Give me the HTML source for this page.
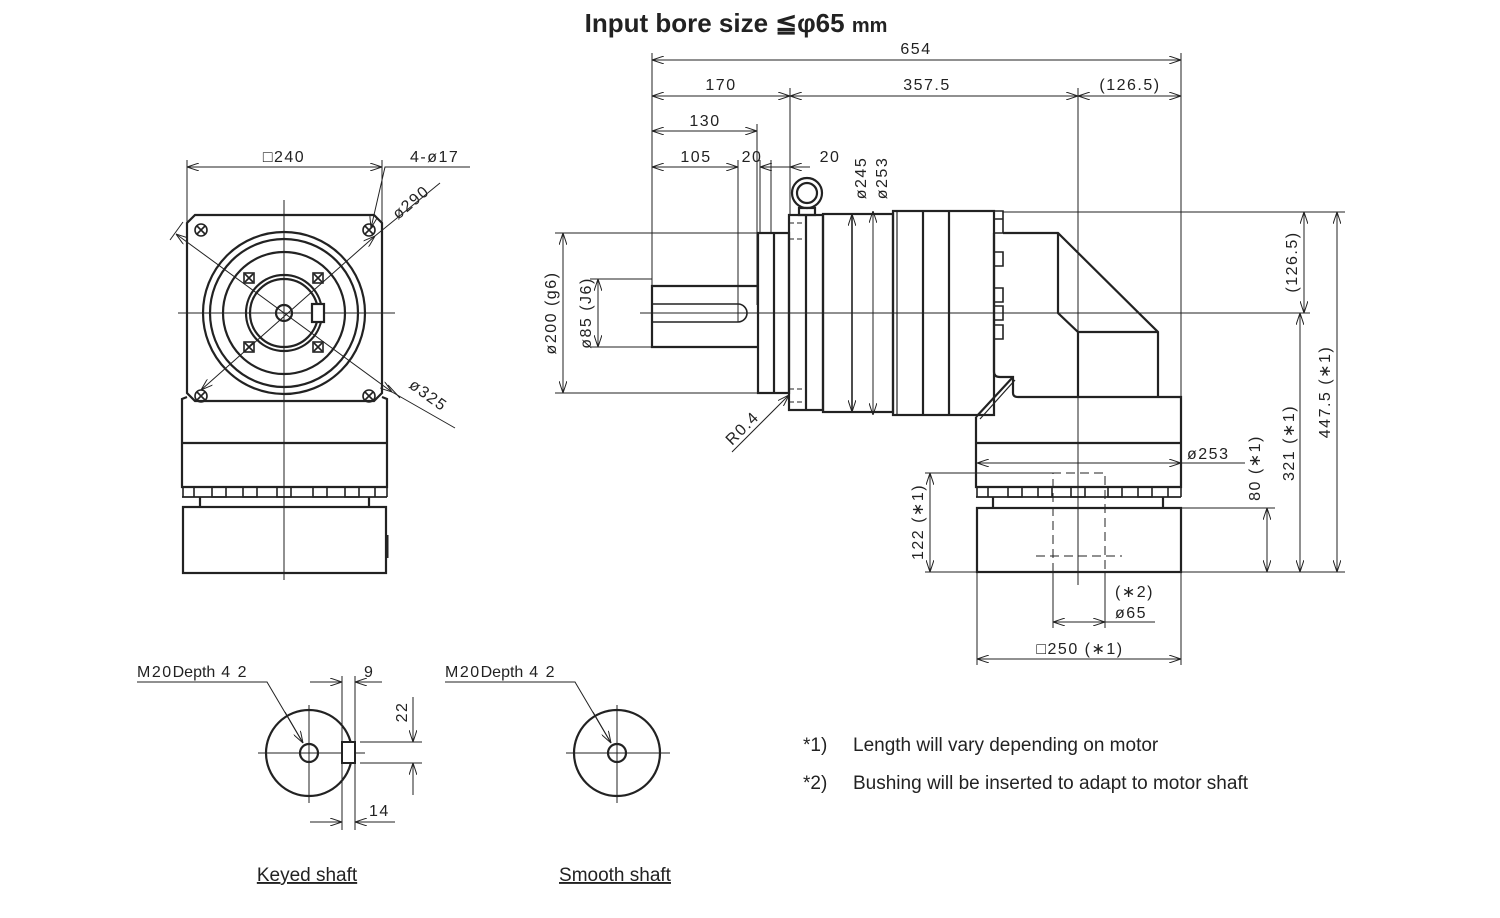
<!DOCTYPE html>
<html><head><meta charset="utf-8"><style>
html,body{margin:0;padding:0;background:#fff}
svg{display:block}
text{font-family:"Liberation Sans",sans-serif;fill:#222}
.d{font-size:16px;letter-spacing:1.5px}
.n{font-size:19px}
</style></head><body>
<svg width="1500" height="918" viewBox="0 0 1500 918" xmlns="http://www.w3.org/2000/svg">
<defs>
<marker id="a" viewBox="0 0 12 8" refX="12" refY="4" markerWidth="12" markerHeight="8" markerUnits="userSpaceOnUse" orient="auto-start-reverse"><path d="M0,0 L12,4 L0,8" fill="none" stroke="#222" stroke-width="1"/></marker>
<g id="bh" stroke="#222" stroke-width="1.6" fill="none"><circle r="6"/><path d="M-4,-4 L4,4 M4,-4 L-4,4"/></g>
<g id="sb" stroke="#222" stroke-width="1.6" fill="none"><rect x="-5" y="-5" width="10" height="10"/><path d="M-4,-4 L4,4 M4,-4 L-4,4"/></g>
</defs>
<text x="736" y="32" text-anchor="middle" style="font-size:26px;font-weight:bold">Input bore size  ≦φ65 <tspan style="font-size:20px">mm</tspan></text>

<g stroke="#222" stroke-width="1" fill="none">
<line x1="284" y1="200" x2="284" y2="580"/><line x1="178" y1="313" x2="395" y2="313"/>
<line x1="187" y1="160" x2="187" y2="222"/><line x1="382" y1="160" x2="382" y2="222"/>
<line x1="187" y1="167" x2="382" y2="167" marker-start="url(#a)" marker-end="url(#a)"/>
<polyline points="371,228 385,167 470,167" marker-start="url(#a)"/>
<line x1="201" y1="390" x2="375" y2="236" marker-start="url(#a)" marker-end="url(#a)"/>
<line x1="375" y1="236" x2="440" y2="183"/>
<line x1="176" y1="234" x2="392" y2="392" marker-start="url(#a)" marker-end="url(#a)"/>
<line x1="392" y1="392" x2="455" y2="428"/>
<line x1="183" y1="222" x2="170" y2="240"/><line x1="388" y1="385" x2="400" y2="398"/>

<line x1="640" y1="313" x2="1310" y2="313"/>
<line x1="1078" y1="88" x2="1078" y2="585"/>
<line x1="652" y1="53" x2="652" y2="285"/>
<line x1="1181" y1="53" x2="1181" y2="400"/>
<line x1="790" y1="88" x2="790" y2="215"/>
<line x1="757" y1="124" x2="757" y2="305"/>
<line x1="738" y1="160" x2="738" y2="305"/>
<line x1="760" y1="160" x2="760" y2="233"/>
<line x1="771" y1="160" x2="771" y2="233"/>
<line x1="652" y1="60" x2="1181" y2="60" marker-start="url(#a)" marker-end="url(#a)"/>
<line x1="652" y1="96" x2="790" y2="96" marker-start="url(#a)" marker-end="url(#a)"/>
<line x1="790" y1="96" x2="1078" y2="96" marker-start="url(#a)" marker-end="url(#a)"/>
<line x1="1078" y1="96" x2="1181" y2="96" marker-start="url(#a)" marker-end="url(#a)"/>
<line x1="652" y1="131" x2="757" y2="131" marker-start="url(#a)" marker-end="url(#a)"/>
<line x1="652" y1="167" x2="738" y2="167" marker-start="url(#a)" marker-end="url(#a)"/>
<line x1="760" y1="167" x2="780" y2="167" marker-start="url(#a)"/>
<line x1="760" y1="167" x2="771" y2="167"/>
<line x1="790" y1="167" x2="810" y2="167" marker-start="url(#a)"/><line x1="771" y1="167" x2="790" y2="167"/>
<line x1="555" y1="233" x2="760" y2="233"/><line x1="555" y1="393" x2="760" y2="393"/>
<line x1="590" y1="279" x2="652" y2="279"/><line x1="590" y1="347" x2="652" y2="347"/>
<line x1="563" y1="233" x2="563" y2="393" marker-start="url(#a)" marker-end="url(#a)"/>
<line x1="598" y1="279" x2="598" y2="347" marker-start="url(#a)" marker-end="url(#a)"/>
<line x1="852" y1="214" x2="852" y2="412" marker-start="url(#a)" marker-end="url(#a)"/>
<line x1="873" y1="211" x2="873" y2="415" marker-start="url(#a)" marker-end="url(#a)"/>
<line x1="732" y1="452" x2="789" y2="395" marker-end="url(#a)"/>
<line x1="1003" y1="212" x2="1345" y2="212"/>
<line x1="1181" y1="572" x2="1345" y2="572"/>
<line x1="1181" y1="508" x2="1275" y2="508"/>
<line x1="1304" y1="212" x2="1304" y2="313" marker-start="url(#a)" marker-end="url(#a)"/>
<line x1="1337" y1="212" x2="1337" y2="572" marker-start="url(#a)" marker-end="url(#a)"/>
<line x1="1300" y1="313" x2="1300" y2="572" marker-start="url(#a)" marker-end="url(#a)"/>
<line x1="1267" y1="508" x2="1267" y2="572" marker-start="url(#a)" marker-end="url(#a)"/>
<line x1="977" y1="463" x2="1181" y2="463" marker-start="url(#a)" marker-end="url(#a)"/>
<line x1="1181" y1="463" x2="1245" y2="463"/>
<line x1="925" y1="473" x2="1053" y2="473"/><line x1="925" y1="572" x2="977" y2="572"/>
<line x1="930" y1="473" x2="930" y2="572" marker-start="url(#a)" marker-end="url(#a)"/>
<line x1="977" y1="572" x2="977" y2="665"/><line x1="1181" y1="572" x2="1181" y2="665"/>
<line x1="977" y1="659" x2="1181" y2="659" marker-start="url(#a)" marker-end="url(#a)"/>
<line x1="1053" y1="572" x2="1053" y2="628"/><line x1="1105" y1="572" x2="1105" y2="628"/>
<line x1="1053" y1="622" x2="1105" y2="622" marker-start="url(#a)" marker-end="url(#a)"/>
<line x1="1105" y1="622" x2="1155" y2="622"/>
<g stroke-dasharray="9,5">
<polyline points="1053,572 1053,473 1105,473 1105,572"/>
<line x1="1036" y1="556" x2="1122" y2="556"/>
</g>

<line x1="309" y1="705" x2="309" y2="803"/><line x1="258" y1="753" x2="365" y2="753"/>
<polyline points="137,682 267,682 303,743"/>
<line x1="285" y1="712" x2="303" y2="743" marker-end="url(#a)"/>
<line x1="342" y1="676" x2="342" y2="830"/><line x1="355" y1="676" x2="355" y2="830"/>
<line x1="310" y1="682" x2="342" y2="682" marker-end="url(#a)"/><line x1="355" y1="682" x2="382" y2="682" marker-start="url(#a)"/>
<line x1="310" y1="822" x2="342" y2="822" marker-end="url(#a)"/><line x1="355" y1="822" x2="395" y2="822" marker-start="url(#a)"/>
<line x1="360" y1="742" x2="422" y2="742"/><line x1="360" y1="763" x2="422" y2="763"/>
<line x1="413" y1="697" x2="413" y2="742" marker-end="url(#a)"/><line x1="413" y1="763" x2="413" y2="795" marker-start="url(#a)"/>
<line x1="617" y1="705" x2="617" y2="803"/><line x1="566" y1="753" x2="670" y2="753"/>
<polyline points="445,682 575,682 611,743"/>
<line x1="593" y1="712" x2="611" y2="743" marker-end="url(#a)"/>
</g>

<g stroke="#222" stroke-width="2.2" fill="none">
<path d="M195,215 L374,215 L382,223 L382,393 L374,401 L195,401 L187,393 L187,223 Z"/>
<circle cx="284" cy="313" r="81"/><circle cx="284" cy="313" r="74"/><circle cx="284" cy="313" r="61"/>
<circle cx="284" cy="313" r="38"/><circle cx="284" cy="313" r="34"/><circle cx="284" cy="313" r="8"/>
<rect x="312" y="304" width="12" height="18" fill="#fff"/>
<path d="M187,397 L182,399 L182,487 L387,487 L387,399 L382,397"/>
<line x1="182" y1="443" x2="387" y2="443"/>
<line x1="182" y1="497" x2="387" y2="497" stroke-width="1.8"/>
<rect x="183" y="507" width="203" height="66"/>
<line x1="200" y1="497" x2="200" y2="507"/><line x1="369" y1="497" x2="369" y2="507"/>
<line x1="387" y1="535" x2="387" y2="558" stroke-width="3"/>
</g>
<use href="#bh" x="201" y="230"/><use href="#bh" x="369" y="230"/><use href="#bh" x="201" y="396"/><use href="#bh" x="369" y="396"/>
<use href="#sb" x="249" y="278"/><use href="#sb" x="318" y="278"/><use href="#sb" x="249" y="347"/><use href="#sb" x="318" y="347"/>
<g stroke="#222" stroke-width="1.6" fill="none">
<path d="M183,487 v10 M194,487 v10 M212,487 v10 h14 v-10 M243,487 v10 h14 v-10 M277,487 v10 h14 v-10 M313,487 v10 h14 v-10 M345,487 v10 h14 v-10 M375,487 v10 M387,487 v10"/>
</g>

<g stroke="#222" stroke-width="2.2" fill="none">
<path d="M758,286 L652,286 L652,347 L758,347"/>
<path d="M652,304 L738,304 A9,9 0 0 1 738,322 L652,322" stroke-width="1.6"/>
<line x1="738" y1="304" x2="738" y2="322" stroke-width="1"/>
<rect x="758" y="233" width="31" height="160"/><line x1="774" y1="233" x2="774" y2="393"/>
<rect x="789" y="215" width="34" height="195"/><line x1="806" y1="215" x2="806" y2="410"/>
<rect x="823" y="214" width="70" height="198"/><line x1="852" y1="214" x2="852" y2="412" stroke-width="1.6"/>
<rect x="893" y="211" width="101" height="204"/><line x1="897" y1="211" x2="897" y2="415" stroke-width="1.2"/>
<line x1="923" y1="211" x2="923" y2="415"/><line x1="949" y1="211" x2="949" y2="415"/>
<ellipse cx="807" cy="193" rx="15" ry="15"/><ellipse cx="807" cy="193" rx="10" ry="10"/>
<rect x="799" y="208" width="16" height="7"/>
<path d="M1003,233 L1058,233 L1158,332 L1158,397 M1058,233 L1058,313 L1078,332 L1158,332 M1078,332 L1078,397"/>
<path d="M994,233 L994,372 Q994,377 1000,377 L1013,377 L1013,393 Q1013,397 1018,397 L1181,397 L1181,487 L976,487 L976,417"/>
<line x1="976" y1="417" x2="1013" y2="377"/><line x1="980" y1="419" x2="1015" y2="380" stroke-width="1.2"/>
<line x1="976" y1="443" x2="1181" y2="443"/>
<line x1="976" y1="497" x2="1181" y2="497" stroke-width="1.8"/>
<rect x="977" y="508" width="204" height="64"/>
<line x1="993" y1="497" x2="993" y2="508"/><line x1="1163" y1="497" x2="1163" y2="508"/>
</g>
<g stroke="#222" stroke-width="1.6" fill="none">
<path d="M994,211 h9 v22 h-9 M994,219 h9 M994,252 h9 v14 h-9 M994,288 h9 v14 h-9 M994,306 h9 v14 h-9 M994,325 h9 v14 h-9"/>
<path d="M977,487 v10 M988,487 v10 M1008,487 v10 h14 v-10 M1038,487 v10 h14 v-10 M1071,487 v10 h14 v-10 M1108,487 v10 h14 v-10 M1138,487 v10 h14 v-10 M1168,487 v10 M1181,487 v10"/>
<path d="M789,223 h16 M789,239 h16 M789,389 h16 M789,402 h16" stroke-dasharray="5,3" stroke-width="1"/>
<circle cx="309" cy="753" r="43" stroke-width="2.2"/><circle cx="309" cy="753" r="9" stroke-width="2.2"/>
<rect x="342" y="742" width="13" height="21" fill="#fff" stroke-width="2"/>
<circle cx="617" cy="753" r="43" stroke-width="2.2"/><circle cx="617" cy="753" r="9" stroke-width="2.2"/>
</g>

<g class="d">
<text x="916" y="54" text-anchor="middle">654</text>
<text x="721" y="90" text-anchor="middle">170</text>
<text x="927" y="90" text-anchor="middle">357.5</text>
<text x="1130" y="90" text-anchor="middle">(126.5)</text>
<text x="705" y="126" text-anchor="middle">130</text>
<text x="696" y="162" text-anchor="middle">105</text>
<text x="752" y="162" text-anchor="middle">20</text>
<text x="830" y="162" text-anchor="middle">20</text>
<text x="284" y="162" text-anchor="middle">□240</text>
<text x="410" y="162">4-ø17</text>
<text transform="translate(398,220) rotate(-40)">ø290</text>
<text transform="translate(408,387) rotate(36)">ø325</text>
<text transform="translate(556,313) rotate(-90)" text-anchor="middle">ø200 (g6)</text>
<text transform="translate(591,313) rotate(-90)" text-anchor="middle">ø85 (J6)</text>
<text transform="translate(866,178) rotate(-90)" text-anchor="middle">ø245</text>
<text transform="translate(887,178) rotate(-90)" text-anchor="middle">ø253</text>
<text transform="translate(732,446) rotate(-45)">R0.4</text>
<text transform="translate(1297,262) rotate(-90)" text-anchor="middle">(126.5)</text>
<text transform="translate(1330,392) rotate(-90)" text-anchor="middle">447.5 (∗1)</text>
<text transform="translate(1294,443) rotate(-90)" text-anchor="middle">321 (∗1)</text>
<text transform="translate(1260,468) rotate(-90)" text-anchor="middle">80 (∗1)</text>
<text x="1187" y="459">ø253</text>
<text transform="translate(923,522) rotate(-90)" text-anchor="middle">122 (∗1)</text>
<text x="1115" y="597">(∗2)</text>
<text x="1115" y="618">ø65</text>
<text x="1080" y="654" text-anchor="middle">□250 (∗1)</text>
<text x="137" y="677">M20<tspan style="letter-spacing:0">Depth</tspan> 4 2</text>
<text x="445" y="677">M20<tspan style="letter-spacing:0">Depth</tspan> 4 2</text>
<text x="364" y="677">9</text>
<text transform="translate(407,712) rotate(-90)" text-anchor="middle">22</text>
<text x="369" y="816">14</text>
</g>
<g class="n">
<text x="803" y="751">*1)</text><text x="853" y="751">Length will vary depending on motor</text>
<text x="803" y="789">*2)</text><text x="853" y="789">Bushing will be inserted to adapt to motor shaft</text>
<text x="307" y="881" text-anchor="middle" text-decoration="underline">Keyed shaft</text>
<text x="615" y="881" text-anchor="middle" text-decoration="underline">Smooth shaft</text>
</g>
</svg>
</body></html>
